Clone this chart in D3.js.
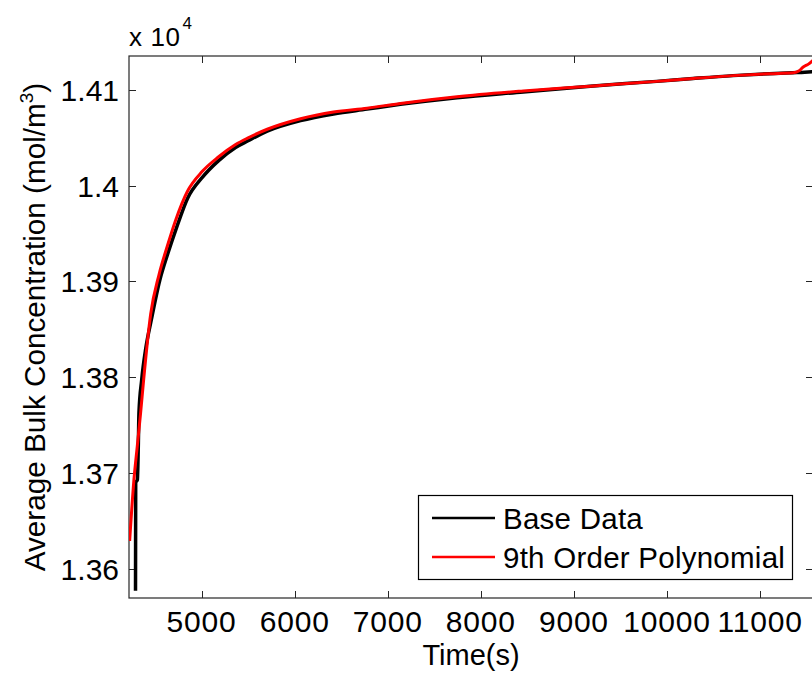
<!DOCTYPE html>
<html>
<head>
<meta charset="utf-8">
<script src="https://cdn.jsdelivr.net/npm/d3@7"></script>
<style>
  html, body { margin: 0; padding: 0; background: #fff; }
  svg { display: block; font-family: Arial, "Liberation Sans", Helvetica, sans-serif; }
</style>
</head>
<body>
<svg id="chart" width="812" height="675"></svg>
<script>
// Measured bulk concentration over time (mol/m^3)
const baseTime = [4290, 4292, 4310, 4320, 4327, 4356, 4400, 4460, 4550, 4640, 4730, 4850, 5010, 5180, 5365, 5500, 5705, 6063, 6417, 6778, 7136, 7744, 8456, 9175, 9891, 10281, 10710, 11100, 11354, 11480, 11569];
const baseConc = [13577, 13690, 13693, 13728, 13763, 13797, 13830, 13860, 13901, 13930, 13956, 13987, 14009, 14026, 14040, 14047, 14057, 14068, 14075, 14080, 14085, 14092, 14098, 14104, 14109, 14112, 14115, 14117, 14118, 14118.5, 14119];

// 9th order polynomial fit evaluated over the same time span
const fitTime = [4227, 4273, 4309, 4345, 4377, 4453, 4542, 4632, 4721, 4847, 5008, 5180, 5365, 5500, 5705, 6063, 6417, 6778, 7136, 7744, 8456, 9175, 9891, 10281, 10710, 11100, 11357, 11420, 11464, 11520, 11569];
const fitConc = [13629, 13693, 13728, 13763, 13797, 13866, 13907, 13937, 13964, 13994, 14015, 14030, 14043, 14050, 14059, 14070, 14077, 14081, 14086, 14093, 14099, 14104, 14109, 14112, 14115, 14117, 14118, 14120, 14124, 14127, 14131];

const xTicks = [5000, 6000, 7000, 8000, 9000, 10000, 11000];
const yTicks = [1.36, 1.37, 1.38, 1.39, 1.40, 1.41];
const yTickLabels = ["1.36", "1.37", "1.38", "1.39", "1.4", "1.41"];
const legendLabels = ["Base Data", "9th Order Polynomial"];
const seriesColors = ["#000000", "#ff0000"];

const plotL = 129, plotR = 813, plotT = 56, plotB = 598;
const svg = d3.select("#chart");

const x = d3.scaleLinear().domain([4220, 11569]).range([plotL, plotR]);
const y = d3.scaleLinear().domain([13569.4, 14135.5]).range([plotB, plotT]);

// clip for data lines
svg.append("defs").append("clipPath").attr("id", "plotClip")
  .append("rect").attr("x", plotL).attr("y", plotT)
  .attr("width", plotR - plotL).attr("height", plotB - plotT);

const tickLen = 7;
const tickFont = 30;

// axis box
svg.append("rect")
  .attr("x", plotL).attr("y", plotT)
  .attr("width", plotR - plotL).attr("height", plotB - plotT)
  .attr("fill", "none").attr("stroke", "#262626").attr("stroke-width", 1.2);

// x ticks (bottom and top, pointing inward)
const gx = svg.append("g");
xTicks.forEach(t => {
  const px = Math.round(x(t)) + 0.5;
  gx.append("line").attr("x1", px).attr("x2", px)
    .attr("y1", plotB).attr("y2", plotB - tickLen)
    .attr("stroke", "#262626").attr("stroke-width", 1);
  gx.append("line").attr("x1", px).attr("x2", px)
    .attr("y1", plotT).attr("y2", plotT + tickLen)
    .attr("stroke", "#262626").attr("stroke-width", 1);
  gx.append("text").attr("x", x(t)).attr("y", 632)
    .attr("text-anchor", "middle").attr("font-size", tickFont)
    .attr("letter-spacing", 0.8)
    .attr("fill", "#000").text(d3.format("d")(t));
});

// y ticks (left and right, pointing inward)
const gy = svg.append("g");
yTicks.forEach((t, i) => {
  const py = Math.round(y(t * 1e4)) + 0.5;
  gy.append("line").attr("x1", plotL).attr("x2", plotL + tickLen)
    .attr("y1", py).attr("y2", py)
    .attr("stroke", "#262626").attr("stroke-width", 1);
  gy.append("line").attr("x1", plotR).attr("x2", plotR - tickLen)
    .attr("y1", py).attr("y2", py)
    .attr("stroke", "#262626").attr("stroke-width", 1);
  gy.append("text").attr("x", 119).attr("y", y(t * 1e4))
    .attr("dy", "0.36em")
    .attr("text-anchor", "end").attr("font-size", tickFont)
    .attr("fill", "#000").text(yTickLabels[i]);
});

// exponent multiplier
const expText = svg.append("text").attr("x", 129).attr("y", 46)
  .attr("font-size", 26).attr("letter-spacing", 0.6).attr("fill", "#000");
expText.append("tspan").text("x 10");
expText.append("tspan").attr("font-size", 17).attr("dy", -17).attr("dx", 2).text("4");

// axis titles
svg.append("text").attr("x", (plotL + plotR) / 2).attr("y", 665)
  .attr("text-anchor", "middle").attr("font-size", 29)
  .attr("fill", "#000").text("Time(s)");

const yl = svg.append("text")
  .attr("transform", `translate(45, ${(plotT + plotB) / 2}) rotate(-90)`)
  .attr("text-anchor", "middle").attr("font-size", 29.7).attr("fill", "#000");
yl.append("tspan").text("Average Bulk Concentration (mol/m");
yl.append("tspan").attr("font-size", 19).attr("dy", -12).text("3");
yl.append("tspan").attr("dy", 12).text(")");

// data lines
const baseData = baseTime.map((t, i) => [t, baseConc[i]]);
const fitData = fitTime.map((t, i) => [t, fitConc[i]]);
const line = d3.line().x(d => x(d[0])).y(d => y(d[1])).curve(d3.curveMonotoneX);

const plot = svg.append("g").attr("clip-path", "url(#plotClip)");
plot.append("path").datum(baseData).attr("d", line)
  .attr("fill", "none").attr("stroke", seriesColors[0]).attr("stroke-width", 3.5)
  .attr("stroke-linejoin", "round");
plot.append("path").datum(fitData).attr("d", line)
  .attr("fill", "none").attr("stroke", seriesColors[1]).attr("stroke-width", 3)
  .attr("stroke-linejoin", "round");

// legend
const lg = svg.append("g");
lg.append("rect").attr("x", 418.5).attr("y", 495.5).attr("width", 374).attr("height", 84)
  .attr("fill", "#fff").attr("stroke", "#000").attr("stroke-width", 1.2);
legendLabels.forEach((lab, i) => {
  const cy = 518 + i * 39;
  lg.append("line").attr("x1", 432).attr("x2", 495).attr("y1", cy).attr("y2", cy)
    .attr("stroke", seriesColors[i]).attr("stroke-width", 2.5);
  lg.append("text").attr("x", 503).attr("y", cy + 11)
    .attr("font-size", 29.5).attr("letter-spacing", 0.25)
    .attr("fill", "#000").text(lab);
});
</script>
</body>
</html>
